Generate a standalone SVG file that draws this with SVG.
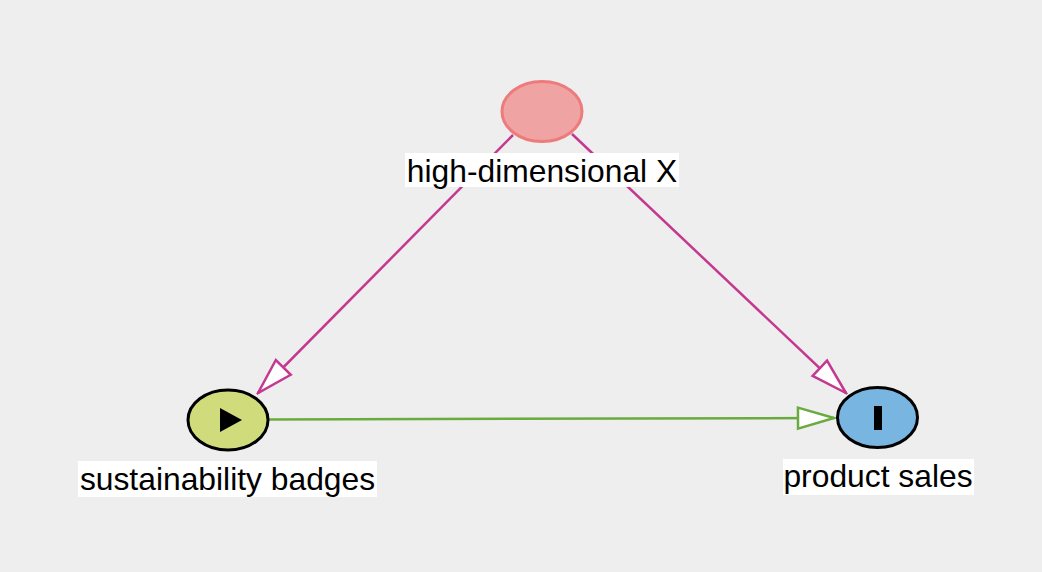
<svg xmlns="http://www.w3.org/2000/svg" width="1042" height="572" viewBox="0 0 1042 572">
<defs>
<style>
.lbl{font-family:"Liberation Sans",Arial,sans-serif;font-size:31.8px;fill:#000;text-anchor:middle}
.lblbg{fill:#fff}
.node{stroke-width:3}
.edge{fill:none;stroke-width:2.5}
.m{stroke:#c4398f}
.g{stroke:#6aab3f}
</style>
<marker id="am" markerUnits="userSpaceOnUse" viewBox="-2 -2 40 26" refX="36" refY="10.5" markerWidth="40" markerHeight="26" orient="auto">
<path d="M0,0 L36,10.5 L0,21 Z" fill="#fff" stroke="#c4398f" stroke-width="2.5" stroke-linejoin="miter"/>
</marker>
<marker id="ag" markerUnits="userSpaceOnUse" viewBox="-2 -2 40 26" refX="36" refY="10.5" markerWidth="40" markerHeight="26" orient="auto">
<path d="M0,0 L36,10.5 L0,21 Z" fill="#fff" stroke="#6aab3f" stroke-width="2.5" stroke-linejoin="miter"/>
</marker>
</defs>
<rect width="1042" height="572" fill="#eeeeee"/>
<g id="connectors">
<line class="edge m" x1="513" y1="135" x2="258" y2="393" marker-end="url(#am)"/>
<line class="edge m" x1="572" y1="134" x2="846" y2="393" marker-end="url(#am)"/>
<line class="edge g" x1="269" y1="419.5" x2="834" y2="418" marker-end="url(#ag)"/>
</g>
<g id="node-x">
<ellipse class="node" cx="542" cy="111.5" rx="40" ry="30" fill="#f0a3a3" stroke="#ee7b7b"/>
<rect class="lblbg" x="405" y="153" width="274" height="34"/>
<text class="lbl" x="542" y="182">high-dimensional X</text>
</g>
<g id="node-badges">
<ellipse class="node" cx="228" cy="420" rx="40" ry="30" fill="#d0dc7c" stroke="#000"/>
<path d="M220,408 L242,420 L220,432 Z" fill="#000"/>
<rect class="lblbg" x="78" y="461" width="299" height="36"/>
<text class="lbl" x="227.5" y="490">sustainability badges</text>
</g>
<g id="node-sales">
<ellipse class="node" cx="877.5" cy="417.5" rx="40" ry="30" fill="#78b5e0" stroke="#000"/>
<rect x="874" y="406" width="8" height="24" fill="#000"/>
<rect class="lblbg" x="783" y="459" width="191" height="36"/>
<text class="lbl" x="878" y="487">product sales</text>
</g>
</svg>
